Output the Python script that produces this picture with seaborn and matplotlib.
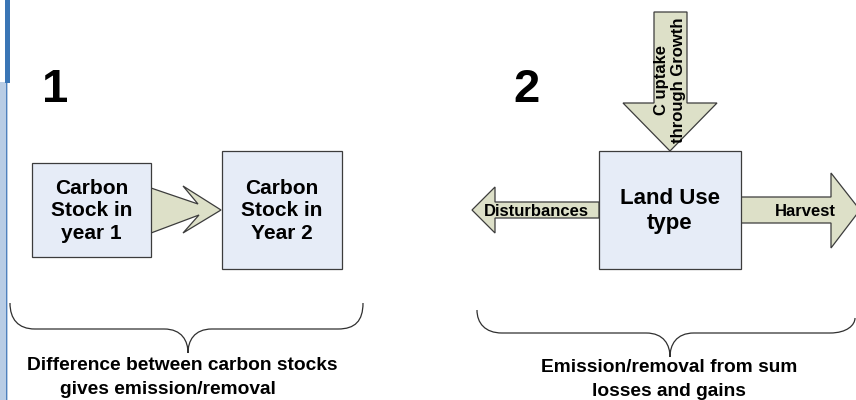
import seaborn as sns
import matplotlib.pyplot as plt
from matplotlib.patches import Polygon, Rectangle, PathPatch
from matplotlib.path import Path

# Textos del diagrama
numeros = ["1", "2"]
cajas_texto = ["Carbon\nStock in\nyear 1", "Carbon\nStock in\nYear 2", "Land Use\ntype"]
flechas_texto = ["C uptake\nthrough Growth", "Disturbances", "Harvest"]
pie_izq = ["Difference between carbon stocks", "gives emission/removal"]
pie_der = ["Emission/removal from sum", "losses and gains"]

sns.set_theme(style="white")
plt.rcParams['font.family'] = ['Liberation Sans', 'DejaVu Sans']
plt.rcParams['text.color'] = 'black'

COL_CAJA = "#e6ecf7"
COL_FLECHA = "#dde0c8"
COL_BORDE = "#3c3c3c"

fig = plt.figure(figsize=(8.56, 4.0), dpi=100)
ax = fig.add_axes([0, 0, 1, 1])
ax.set_xlim(0, 856)
ax.set_ylim(400, 0)
ax.axis("off")

# Franja azul del borde izquierdo
ax.add_patch(Rectangle((0, 82), 8, 318, facecolor="#b9cde5", edgecolor="none"))
ax.add_patch(Rectangle((6, 82), 1.5, 318, facecolor="#4f81bd", edgecolor="none"))
ax.add_patch(Rectangle((5, 0), 5, 83, facecolor="#3a75b5", edgecolor="none"))


def flecha(puntos):
    ax.add_patch(Polygon(puntos, closed=True, facecolor=COL_FLECHA,
                         edgecolor=COL_BORDE, linewidth=0.9, zorder=2))


def caja(x0, y0, x1, y1, texto, size):
    ax.add_patch(Rectangle((x0, y0), x1 - x0, y1 - y0, facecolor=COL_CAJA,
                           edgecolor=COL_BORDE, linewidth=0.9, zorder=3))
    ax.text((x0 + x1) / 2, (y0 + y1) / 2 + 1, texto, ha="center", va="center",
            fontsize=size, fontweight="bold", linespacing=1.25, zorder=4)


def llave(pts):
    x0, xt, x1, yh, yt, ye0, ye1 = pts
    verts = [(x0, ye0), (x0, yh - 10), (x0 + 8, yh), (x0 + 25, yh),
             (xt - 24, yh), (xt - 6, yh), (xt, yh + 12), (xt, yt),
             (xt, yh + 12), (xt + 6, yh), (xt + 24, yh),
             (x1 - 25, yh), (x1 - 8, yh), (x1, yh - 8), (x1, ye1)]
    codes = [Path.MOVETO, Path.CURVE4, Path.CURVE4, Path.CURVE4,
             Path.LINETO, Path.CURVE4, Path.CURVE4, Path.CURVE4,
             Path.CURVE4, Path.CURVE4, Path.CURVE4,
             Path.LINETO, Path.CURVE4, Path.CURVE4, Path.CURVE4]
    ax.add_patch(PathPatch(Path(verts, codes), facecolor="none",
                           edgecolor="#303030", linewidth=0.9))


# Parte 1
ax.text(55, 90, numeros[0], ha="center", va="center", fontsize=34, fontweight="bold")
flecha([(151, 188), (198, 204), (183, 186), (221, 210), (183, 233), (199, 215), (151, 233)])
caja(32, 163, 151, 257, cajas_texto[0], 15)
caja(222, 151, 342, 269, cajas_texto[1], 15)

# Parte 2
ax.text(527, 90, numeros[1], ha="center", va="center", fontsize=34, fontweight="bold")
flecha([(654, 12), (687, 12), (687, 103), (717, 103), (670, 151), (623, 103), (654, 103)])
flecha([(599, 202), (495, 202), (495, 187), (472, 210), (495, 233), (495, 218), (599, 218)])
flecha([(741, 197), (831, 197), (831, 173), (860, 210), (831, 248), (831, 223), (741, 223)])
caja(599, 151, 741, 269, cajas_texto[2], 16)
ax.text(670, 80, flechas_texto[0], ha="center", va="center", rotation=90,
        fontsize=12, fontweight="bold", linespacing=1.15, multialignment="center", zorder=5)
ax.text(536, 211, flechas_texto[1], ha="center", va="center", fontsize=12,
        fontweight="bold", zorder=5)
ax.text(805, 211, flechas_texto[2], ha="center", va="center", fontsize=12,
        fontweight="bold", zorder=5)

# Llaves y textos inferiores
llave((10, 188, 363, 329, 353, 303, 303))
llave((477, 670, 855, 333, 357, 310, 318))
ax.text(182, 365, pie_izq[0], ha="center", va="center", fontsize=13.8, fontweight="bold")
ax.text(168, 390, pie_izq[1], ha="center", va="center", fontsize=13.8, fontweight="bold")
ax.text(669, 368, pie_der[0], ha="center", va="center", fontsize=13.8, fontweight="bold")
ax.text(669, 392, pie_der[1], ha="center", va="center", fontsize=13.8, fontweight="bold")

fig.savefig("out.png", dpi=100)
